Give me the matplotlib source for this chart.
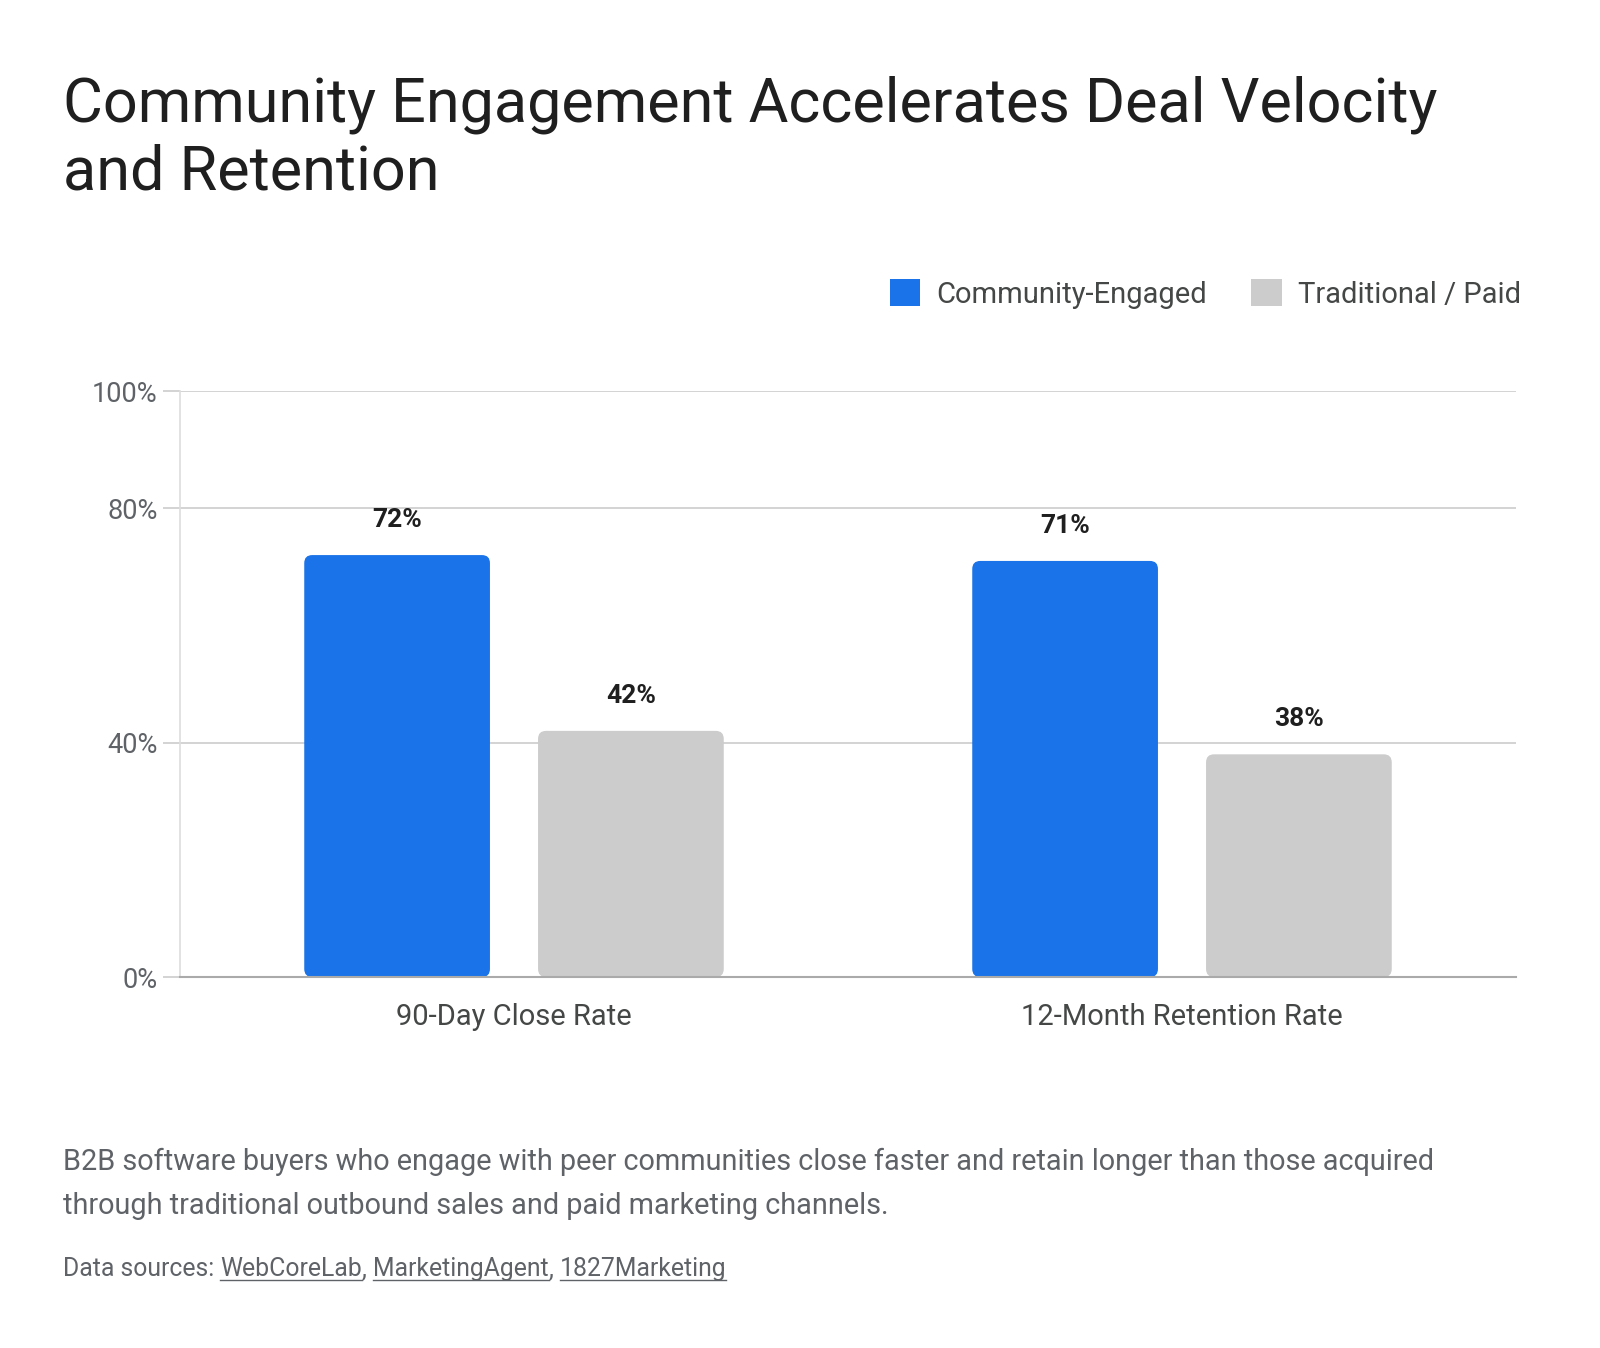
import matplotlib
matplotlib.use("Agg")
import matplotlib.pyplot as plt
from matplotlib.patches import FancyBboxPatch, Rectangle
import numpy as np

categories = ["90-Day Close Rate", "12-Month Retention Rate"]
series_names = ["Community-Engaged", "Traditional / Paid"]
community = [72, 71]
traditional = [42, 38]
value_labels_c = ["72%", "71%"]
value_labels_t = ["42%", "38%"]
yticks = [0, 40, 80, 100]
ytick_labels = ["0%", "40%", "80%", "100%"]
colors = ["#1A73E8", "#CCCCCC"]

title = "Community Engagement Accelerates Deal Velocity\nand Retention"
subtitle = ("B2B software buyers who engage with peer communities close faster and retain longer than those acquired\n"
            "through traditional outbound sales and paid marketing channels.")
sources_prefix = "Data sources: "
sources = ["WebCoreLab", "MarketingAgent", "1827Marketing"]

plt.rcParams['font.family'] = ['Roboto', 'DejaVu Sans']

W, H = 1600, 1348
fig = plt.figure(figsize=(W / 100, H / 100), dpi=100)
fig.patch.set_facecolor("white")

ax = fig.add_axes([180 / W, 1 - 977 / H, (1516 - 180) / W, (977 - 391) / H])
ax.set_xlim(-0.5, 1.5)
ax.set_ylim(0, 100)

x = np.arange(len(categories))
bw = 0.278
off = 0.175

ax_w_px = 1516 - 180
ax_h_px = 977 - 391
x_per_px = 2.0 / ax_w_px
y_per_px = 100.0 / ax_h_px
aspect = y_per_px / x_per_px
r = 8 * x_per_px

for vals, sgn, col, name in [(community, -1, colors[0], series_names[0]),
                             (traditional, 1, colors[1], series_names[1])]:
    b = ax.bar(x + sgn * off, vals, width=bw, color=col, label=name)
    for rect in b:
        rect.set_visible(False)
        p = FancyBboxPatch((rect.get_x(), rect.get_y()), rect.get_width(), rect.get_height(),
                           boxstyle=f"round,pad=0,rounding_size={r}",
                           mutation_aspect=aspect, facecolor=col, edgecolor="none", zorder=3)
        ax.add_patch(p)

for xs, vals, labs in [(x - off, community, value_labels_c), (x + off, traditional, value_labels_t)]:
    for xi, v, lab in zip(xs, vals, labs):
        ax.annotate(lab, (xi, v), xytext=(0, 35), textcoords="offset pixels",
                    ha="center", va="center", fontsize=19, fontweight="bold", color="#1f1f1f")

ax.set_yticks(yticks)
ax.set_yticklabels(ytick_labels)
ax.set_xticks(x)
ax.set_xticklabels(categories)
ax.yaxis.grid(True, color="#CCCCCC", linewidth=1.2, zorder=0)
ax.set_axisbelow(True)
for s in ["top", "right"]:
    ax.spines[s].set_visible(False)
ax.spines["left"].set_color("#DDDDDD")
ax.spines["left"].set_linewidth(1.2)
ax.spines["bottom"].set_color("#AAAAAA")
ax.spines["bottom"].set_linewidth(1.5)
ax.spines["bottom"].set_zorder(4)
ax.tick_params(axis="y", length=12, width=1.2, color="#CCCCCC", labelsize=19.5,
               labelcolor="#5f6368", pad=4)
ax.tick_params(axis="x", length=0, labelsize=21, labelcolor="#444746", pad=19)

handles = [Rectangle((0, 0), 1, 1, facecolor=c, edgecolor="none") for c in colors]
leg = fig.legend(handles, series_names, loc="upper right", bbox_to_anchor=(1547 / W, 1 - 253 / H),
                 ncol=2, frameon=False, fontsize=21, handlelength=1.05, handleheight=1.05,
                 handletextpad=0.55, columnspacing=1.5, labelcolor="#444746")

fig.text(63 / W, 1 - 190 / H, title, fontsize=44, color="#1f1f1f", ha="left", va="baseline",
         linespacing=1.22)
fig.text(63 / W, 1 - 1214 / H, subtitle, fontsize=20.8, color="#5f6368", ha="left", va="baseline",
         linespacing=1.72)

fig.canvas.draw()
renderer = fig.canvas.get_renderer()
fs = 17.8
xpos = 63
ybase = 1 - 1276 / H
t = fig.text(xpos / W, ybase, sources_prefix, fontsize=fs, color="#5f6368", ha="left", va="baseline")
xpos = t.get_window_extent(renderer).x1
for i, s in enumerate(sources):
    ts = fig.text(xpos / W, ybase, s, fontsize=fs, color="#5f6368", ha="left", va="baseline")
    bbs = ts.get_window_extent(renderer)
    fig.add_artist(plt.Line2D([bbs.x0 / W, bbs.x1 / W], [ybase - 4 / H, ybase - 4 / H],
                              color="#5f6368", linewidth=1, transform=fig.transFigure))
    xpos = bbs.x1
    if i < len(sources) - 1:
        tc = fig.text(xpos / W, ybase, ", ", fontsize=fs, color="#5f6368", ha="left", va="baseline")
        xpos = tc.get_window_extent(renderer).x1

fig.savefig("out.png", dpi=100, facecolor="white")
